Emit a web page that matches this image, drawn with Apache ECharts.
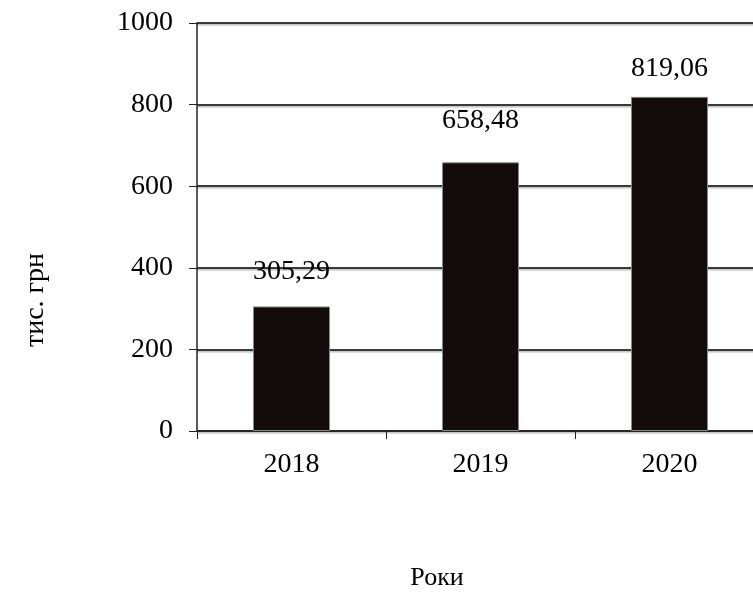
<!DOCTYPE html>
<html><head><meta charset="utf-8">
<script src="https://cdn.jsdelivr.net/npm/echarts@6/dist/echarts.min.js"></script>
<style>html,body{margin:0;padding:0;background:#fff}#c{width:753px;height:594px}</style>
</head><body><div id="c"></div>
<script>
var categories = ['2018', '2019', '2020'];
var values = [305.29, 658.48, 819.06];
var valueLabels = ['305,29', '658,48', '819,06'];
var labelOffsets = [-16, -23, -9];
var yTicks = [0, 200, 400, 600, 800, 1000];

var chart = echarts.init(document.getElementById('c'), null, {renderer: 'canvas'});
var font = '"Liberation Serif", "Times New Roman", serif';
chart.setOption({
  animation: false,
  backgroundColor: '#fff',
  grid: {left: 197, top: 23, right: -11, bottom: 163, containLabel: false, outerBoundsMode: 'none'},
  xAxis: {
    type: 'category', data: categories,
    axisLine: {lineStyle: {color: '#222', width: 1.5}},
    axisTick: {show: true, length: 8, lineStyle: {color: '#222'}},
    axisLabel: {color: '#000', fontFamily: font, fontSize: 28, margin: 20}
  },
  yAxis: {
    type: 'value', min: 0, max: 1000, interval: 200,
    axisLine: {show: true, lineStyle: {color: '#222', width: 1.5}},
    axisTick: {show: true, length: 8, lineStyle: {color: '#222'}},
    axisLabel: {color: '#000', fontFamily: font, fontSize: 28, margin: 24,
      formatter: function (v) { return yTicks.indexOf(v) >= 0 ? String(v) : ''; }},
    splitLine: {show: true, lineStyle: {color: '#3a3a3a', width: 2, shadowColor: 'rgba(0,0,0,0.25)', shadowOffsetY: 1.5, shadowBlur: 1}}
  },
  series: [{
    type: 'bar', barWidth: 77,
    data: values.map(function (v, i) {
      return {value: v, label: {offset: [0, labelOffsets[i]]}};
    }),
    itemStyle: {color: '#140c0c', borderColor: '#888', borderWidth: 1},
    label: {show: true, position: 'top', color: '#000', fontFamily: font, fontSize: 28,
      formatter: function (p) { return valueLabels[p.dataIndex]; }}
  }],
  graphic: [
    {type: 'text', x: 36, y: 300, rotation: Math.PI / 2,
      style: {text: 'тис. грн', fill: '#000', font: '28px ' + font, textAlign: 'center', textVerticalAlign: 'middle'}},
    {type: 'text', x: 437, y: 578,
      style: {text: 'Роки', fill: '#000', font: '26px ' + font, textAlign: 'center', textVerticalAlign: 'middle'}}
  ]
});
</script></body></html>
